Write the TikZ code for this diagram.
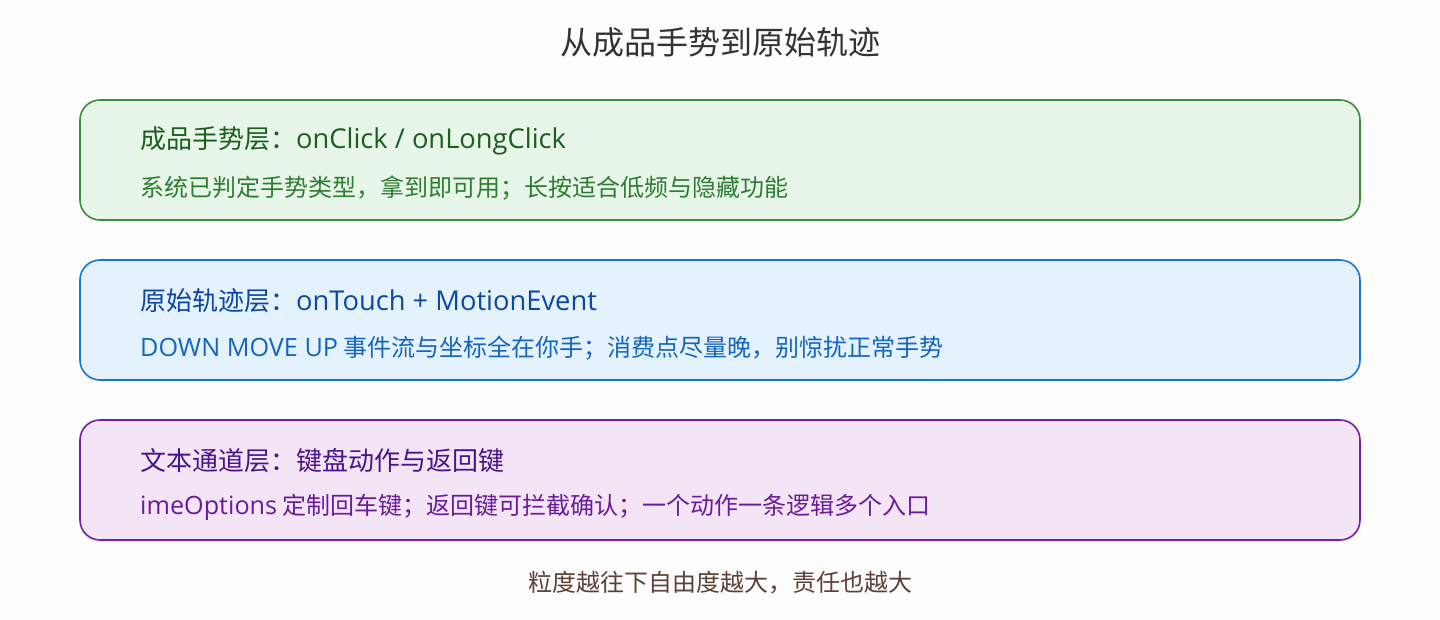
\documentclass[tikz,border=0pt]{standalone}
\usepackage{fontspec}
\setmainfont{Noto Sans CJK SC}
\newfontfamily\lat[Scale=1.05]{Open Sans}
\definecolor{bgc}{HTML}{FDFDFD}
\definecolor{titc}{HTML}{333333}
\definecolor{gB}{HTML}{388E3C}\definecolor{gF}{HTML}{E8F5E9}\definecolor{gT}{HTML}{1B5E20}\definecolor{gS}{HTML}{2E7D32}
\definecolor{bB}{HTML}{1976D2}\definecolor{bF}{HTML}{E3F2FD}\definecolor{bT}{HTML}{0D47A1}\definecolor{bS}{HTML}{1565C0}
\definecolor{pB}{HTML}{7B1FA2}\definecolor{pF}{HTML}{F3E5F5}\definecolor{pT}{HTML}{4A148C}\definecolor{pS}{HTML}{6A1B9A}
\definecolor{botc}{HTML}{5D4037}
\tikzset{
  layer/.style={draw, line width=1.6pt, rounded corners=20pt, minimum width=1280pt, minimum height=120pt, inner sep=0pt},
  ltitle/.style={anchor=west, inner sep=0pt, font=\fontsize{26}{30}\selectfont},
  lsub/.style={anchor=west, inner sep=0pt, font=\fontsize{24}{28}\selectfont},
}
\begin{document}
\begin{tikzpicture}[x=1pt,y=-1pt]
\fill[bgc] (0,0) rectangle (1440,620);
\useasboundingbox (0,0) rectangle (1440,620);
\node[inner sep=0pt, text=titc, font=\fontsize{32}{36}\selectfont] (title) at (720,42) {从成品手势到原始轨迹};
\node[layer, draw=gB, fill=gF] (l1) at (720,160) {};
\node[ltitle, text=gT] (l1t) at (140,141) {成品手势层：{\lat onClick / onLongClick}};
\node[lsub, text=gS] (l1s) at (140,188) {系统已判定手势类型，拿到即可用；长按适合低频与隐藏功能};
\node[layer, draw=bB, fill=bF] (l2) at (720,320) {};
\node[ltitle, text=bT] (l2t) at (140,301) {原始轨迹层：{\lat onTouch + MotionEvent}};
\node[lsub, text=bS] (l2s) at (140,348) {{\lat DOWN MOVE UP} 事件流与坐标全在你手；消费点尽量晚，别惊扰正常手势};
\node[layer, draw=pB, fill=pF] (l3) at (720,480) {};
\node[ltitle, text=pT] (l3t) at (140,461) {文本通道层：键盘动作与返回键};
\node[lsub, text=pS] (l3s) at (140,507) {{\lat imeOptions} 定制回车键；返回键可拦截确认；一个动作一条逻辑多个入口};
\node[inner sep=0pt, text=botc, font=\fontsize{24}{28}\selectfont] (bot) at (720,583) {粒度越往下自由度越大，责任也越大};
\end{tikzpicture}
\end{document}
